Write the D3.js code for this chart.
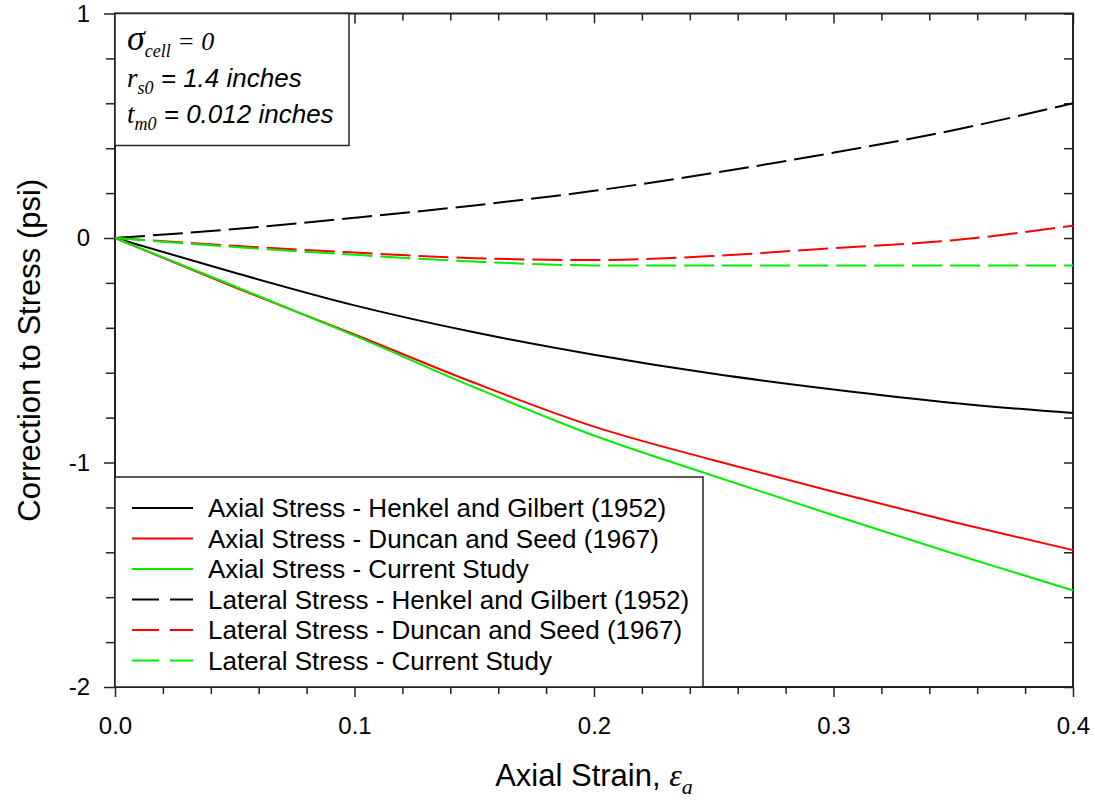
<!doctype html>
<html>
<head>
<meta charset="utf-8">
<style>
  body { margin: 0; background: #fff; }
  svg text { font-family: "Liberation Sans", Arial, sans-serif; fill: #000; }
  .serif { font-family: "Liberation Serif", "Times New Roman", serif; }
</style>
</head>
<body>
<script src="https://d3js.org/d3.v7.min.js"></script>
<svg id="chart" width="1095" height="809"></svg>
<script>
// axial strain values (fraction)
const strain = [0, 0.05, 0.1, 0.15, 0.2, 0.25, 0.3, 0.35, 0.4];

const axialHenkel   = [0, -0.155, -0.30, -0.42, -0.52, -0.605, -0.675, -0.735, -0.78];
const axialDuncan   = [0, -0.22, -0.43, -0.645, -0.84, -0.99, -1.13, -1.265, -1.39];
const axialCurrent  = [0, -0.215, -0.435, -0.665, -0.88, -1.06, -1.235, -1.405, -1.57];
const latHenkel     = [0, 0.04, 0.09, 0.145, 0.21, 0.29, 0.38, 0.48, 0.60];
const latDuncan     = [0, -0.035, -0.065, -0.09, -0.098, -0.08, -0.045, -0.01, 0.055];
const latCurrent    = [0, -0.04, -0.075, -0.105, -0.122, -0.123, -0.123, -0.123, -0.123];

const seriesNames = [
  'Axial Stress - Henkel and Gilbert (1952)',
  'Axial Stress - Duncan and Seed (1967)',
  'Axial Stress - Current Study',
  'Lateral Stress - Henkel and Gilbert (1952)',
  'Lateral Stress - Duncan and Seed (1967)',
  'Lateral Stress - Current Study'
];
const seriesValues = [axialHenkel, axialDuncan, axialCurrent, latHenkel, latDuncan, latCurrent];
const seriesColors = ['#000', '#ff0000', '#00ee00', '#000', '#ff0000', '#00ee00'];
const seriesDashed = [false, false, false, true, true, true];

const xTicks = [0, 0.1, 0.2, 0.3, 0.4];
const yTicks = [1, 0, -1, -2];

const svg = d3.select('#chart');
const pl = 115, pr = 1073, pt = 13.5, pb = 687;

const x = d3.scaleLinear().domain([0, 0.4]).range([pl, pr]);
const y = d3.scaleLinear().domain([-2, 1]).range([pb, pt]);

const xMinor = d3.range(0, 0.4001, 0.02).filter(v => Math.abs(v * 10 - Math.round(v * 10)) > 1e-6);
const yMinor = d3.range(-2, 1.001, 0.2).filter(v => Math.abs(v - Math.round(v)) > 1e-6);

function styleAxis(g) {
  g.select('.domain').remove();
  g.selectAll('line').attr('stroke', '#222').attr('stroke-width', 1.5);
  g.selectAll('text').style('font-size', '24px').style('font-family', '"Liberation Sans", Arial, sans-serif');
}

// bottom
svg.append('g').attr('transform', `translate(0,${pb})`)
  .call(d3.axisBottom(x).tickValues(xMinor).tickSize(7).tickFormat(''))
  .call(styleAxis);
svg.append('g').attr('transform', `translate(0,${pb})`)
  .call(d3.axisBottom(x).tickValues(xTicks).tickSize(10).tickPadding(20).tickFormat(d3.format('.1f')))
  .call(styleAxis);
// top
svg.append('g').attr('transform', `translate(0,${pt})`)
  .call(d3.axisTop(x).tickValues(xMinor).tickSize(-7).tickFormat(''))
  .call(styleAxis);
svg.append('g').attr('transform', `translate(0,${pt})`)
  .call(d3.axisTop(x).tickValues(xTicks).tickSize(-10).tickFormat(''))
  .call(styleAxis);
// left
svg.append('g').attr('transform', `translate(${pl},0)`)
  .call(d3.axisLeft(y).tickValues(yMinor).tickSize(9).tickFormat(''))
  .call(styleAxis);
svg.append('g').attr('transform', `translate(${pl},0)`)
  .call(d3.axisLeft(y).tickValues(yTicks).tickSize(11).tickPadding(14).tickFormat(d => String(d)))
  .call(styleAxis);
// right
svg.append('g').attr('transform', `translate(${pr},0)`)
  .call(d3.axisRight(y).tickValues(yMinor.concat(yTicks)).tickSize(-9).tickFormat(''))
  .call(styleAxis);

// frame
svg.append('rect')
  .attr('x', pl).attr('y', pt)
  .attr('width', pr - pl).attr('height', pb - pt)
  .attr('fill', 'none').attr('stroke', '#222').attr('stroke-width', 2);

// series
const line = d3.line()
  .x((d, i) => x(strain[i]))
  .y(d => y(d))
  .curve(d3.curveMonotoneX);

seriesValues.forEach((vals, i) => {
  svg.append('path')
    .datum(vals)
    .attr('d', line)
    .attr('fill', 'none')
    .attr('stroke', seriesColors[i])
    .attr('stroke-width', 2)
    .attr('stroke-dasharray', seriesDashed[i] ? '30,8' : null);
});

// parameter box
const pbox = svg.append('g');
pbox.append('rect').attr('x', pl).attr('y', pt).attr('width', 234).attr('height', 132)
  .attr('fill', '#fff').attr('stroke', '#222').attr('stroke-width', 1.5);
const t1 = pbox.append('text').attr('x', 127).attr('y', 50).style('font-size', '26px');
t1.append('tspan').attr('class', 'serif').style('font-style', 'italic').style('font-size', '36px').text('σ');
t1.append('tspan').attr('class', 'serif').style('font-style', 'italic').style('font-size', '18px').attr('dy', 7).text('cell');
t1.append('tspan').attr('class', 'serif').style('font-style', 'italic').attr('dy', -7).text(' = 0');

const t2 = pbox.append('text').attr('x', 127).attr('y', 87).style('font-size', '26px').style('font-style', 'italic');
t2.append('tspan').attr('class', 'serif').style('font-size', '27px').text('r');
t2.append('tspan').attr('class', 'serif').style('font-size', '18px').attr('dy', 7).text('s0');
t2.append('tspan').attr('dy', -7).text(' = 1.4 inches');

const t3 = pbox.append('text').attr('x', 127).attr('y', 123).style('font-size', '26px').style('font-style', 'italic');
t3.append('tspan').attr('class', 'serif').style('font-size', '27px').text('t');
t3.append('tspan').attr('class', 'serif').style('font-size', '18px').attr('dy', 7).text('m0');
t3.append('tspan').attr('dy', -7).text(' = 0.012 inches');

// legend
const lg = svg.append('g');
lg.append('rect').attr('x', pl).attr('y', 477).attr('width', 588).attr('height', pb - 477)
  .attr('fill', '#fff').attr('stroke', '#222').attr('stroke-width', 1.5);
seriesNames.forEach((name, i) => {
  const cy = 508 + i * 30.5;
  lg.append('line').attr('x1', 132).attr('x2', 193).attr('y1', cy).attr('y2', cy)
    .attr('stroke', seriesColors[i]).attr('stroke-width', 2)
    .attr('stroke-dasharray', seriesDashed[i] ? '27,11' : null);
  lg.append('text').attr('x', 208).attr('y', cy + 9).style('font-size', '26px').text(name);
});

// axis titles
const xt = svg.append('text').attr('x', 594).attr('y', 786).attr('text-anchor', 'middle').style('font-size', '31px');
xt.append('tspan').text('Axial Strain, ');
xt.append('tspan').attr('class', 'serif').style('font-style', 'italic').style('font-size', '32px').text('ε');
xt.append('tspan').attr('class', 'serif').style('font-style', 'italic').style('font-size', '22px').attr('dy', 8).text('a');

svg.append('text')
  .attr('transform', `translate(40,${(pt + pb) / 2}) rotate(-90)`)
  .attr('text-anchor', 'middle')
  .style('font-size', '31px')
  .text('Correction to Stress (psi)');
</script>
</body>
</html>
